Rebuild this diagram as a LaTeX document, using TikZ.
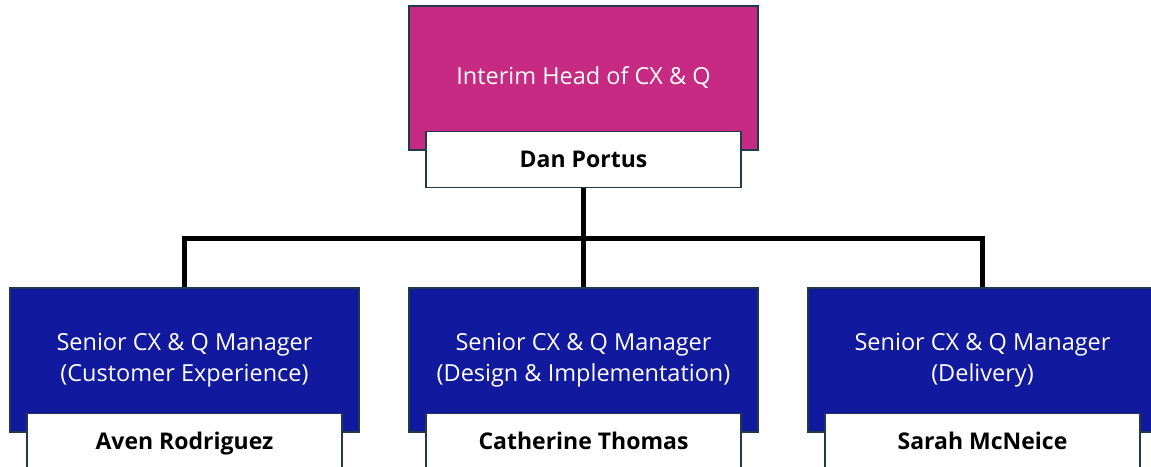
\documentclass[tikz,border=0pt]{standalone}
\usepackage{fontspec}
\setmainfont{Open Sans}
\usetikzlibrary{positioning}
\definecolor{headpink}{HTML}{C72A83}
\definecolor{mgrblue}{HTML}{111A9E}
\definecolor{edgeslate}{HTML}{1F3A4A}
\begin{document}
\begin{tikzpicture}[x=1pt,y=1pt,on grid,node distance=399pt,
   role/.style={draw=edgeslate,line width=1.2pt,minimum width=349pt,minimum height=144pt,
                text=white,align=center,font=\fontsize{23.5}{31}\selectfont},
   namebox/.style={draw=edgeslate,fill=white,line width=1.2pt,minimum width=315pt,
                minimum height=56pt,text height=16pt,text depth=0pt,
                font=\fontsize{23}{27}\selectfont\bfseries},
   link/.style={line width=5pt}]
   \useasboundingbox (0,0) rectangle (1151,-466);
   \node[role,fill=headpink] (head) at (583.5,-78) {Interim Head of CX \& Q};
   \node[namebox] (dan) at ([yshift=-9pt]head.south) {Dan Portus};
   \node[role,fill=mgrblue] (design) [below=282pt of head] {Senior CX \& Q Manager\\(Design \& Implementation)};
   \node[role,fill=mgrblue] (custexp) [left=of design] {Senior CX \& Q Manager\\(Customer Experience)};
   \node[role,fill=mgrblue] (delivery) [right=of design] {Senior CX \& Q Manager\\(Delivery)};
   \node[namebox] (catherine) at ([yshift=-9pt]design.south) {Catherine Thomas};
   \node[namebox] (aven) at ([yshift=-9pt]custexp.south) {Aven Rodriguez};
   \node[namebox] (sarah) at ([yshift=-9pt]delivery.south) {Sarah McNeice};
   \coordinate (bar) at ([yshift=-50pt]dan.south);
   \draw[link] (dan.south) -- (design.north);
   \draw[link] (custexp.north) |- (bar) -| (delivery.north);
\end{tikzpicture}
\end{document}
